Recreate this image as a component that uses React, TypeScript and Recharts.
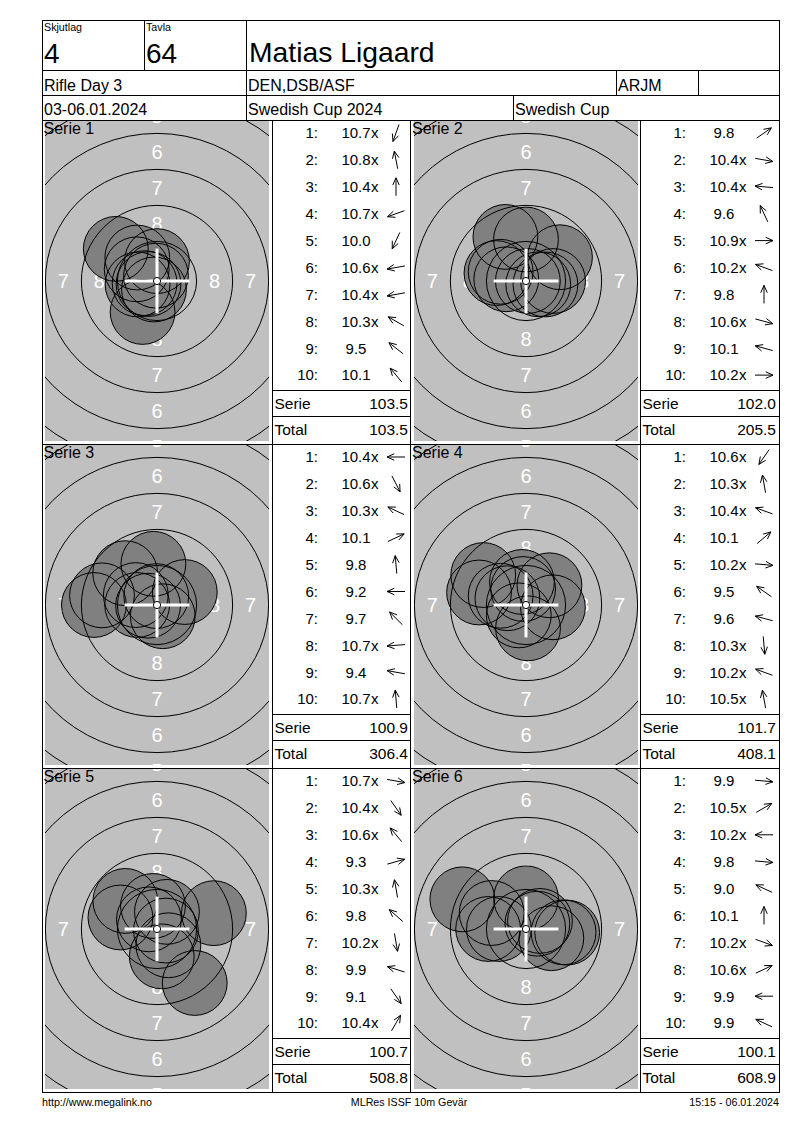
import React from 'react';
import { ScatterChart, Scatter, XAxis, YAxis } from 'recharts';

const FONT = '"Liberation Sans", Arial, Helvetica, sans-serif';

// ---------- header data ----------
const relayLabel = 'Skjutlag';
const relayNo = '4';
const targetLabel = 'Tavla';
const targetNo = '64';
const shooterName = 'Matias Ligaard';
const eventName = 'Rifle Day 3';
const clubName = 'DEN,DSB/ASF';
const classCode = 'ARJM';
const dateText = '03-06.01.2024';
const competitionName = 'Swedish Cup 2024';
const competitionShort = 'Swedish Cup';
const footerLeft = 'http://www.megalink.no';
const footerCenter = 'MLRes ISSF 10m Gevär';
const footerRight = '15:15 - 06.01.2024';

// ---------- series data (shot positions in mm, x right, y up) ----------
const seriesNames = ['Serie 1', 'Serie 2', 'Serie 3', 'Serie 4', 'Serie 5', 'Serie 6'];

const s1Scores = ['10.7x', '10.8x', '10.4x', '10.7x', '10.0', '10.6x', '10.4x', '10.3x', '9.5', '10.1'];
const s1X = [-0.21, -0.07, 0, -0.59, -1.0, -0.86, -1.35, -1.41, -2.86, -1.37];
const s1Y = [-0.59, 0.37, 1.38, -0.21, -2.15, -0.15, -0.24, 0.81, 2.23, 1.63];

const s2Scores = ['9.8', '10.4x', '10.4x', '9.6', '10.9x', '10.2x', '9.8', '10.6x', '10.1', '10.2x'];
const s2X = [2.36, 1.35, -1.37, -1.43, 0.13, -1.76, 0, 0.85, -2.05, 1.88];
const s2Y = [1.65, -0.24, 0.12, 3.06, 0, 0.64, 2.88, -0.23, 0.55, 0];

const s3Scores = ['10.4x', '10.6x', '10.3x', '10.1', '9.8', '9.2', '9.7', '10.7x', '9.4', '10.7x'];
const s3X = [-1.38, 0.4, -1.47, 1.93, -0.25, -4.38, -2.21, -0.62, -3.82, -0.05];
const s3Y = [0, -0.78, 0.69, 0.9, 2.86, 0, 2.21, -0.05, 0.67, 0.62];

const s4Scores = ['10.6x', '10.3x', '10.4x', '10.1', '10.2x', '9.5', '9.6', '10.3x', '10.2x', '10.5x'];
const s4X = [-0.5, -0.28, -1.29, 1.63, 1.87, -2.97, -3.26, 0.14, -1.76, -0.2];
const s4Y = [-0.72, 1.6, 0.47, 1.37, -0.16, 2.08, 0.87, -1.62, 0.64, 1.11];

const s5Scores = ['10.7x', '10.4x', '10.6x', '9.3', '10.3x', '9.8', '10.2x', '9.9', '9.1', '10.4x'];
const s5X = [0.62, 0.79, -0.56, 3.95, -0.28, -2.2, 0.33, -2.54, 2.62, 0.69];
const s5Y = [-0.11, -1.13, 0.67, 1.1, 1.6, 1.95, -1.9, 0.8, -3.75, 1.19];

const s6Scores = ['9.9', '10.5x', '10.2x', '9.8', '9.0', '10.1', '10.2x', '10.6x', '9.9', '9.9'];
const s6X = [2.61, 0.97, -1.88, 2.86, -4.42, 0, 1.76, 0.79, -2.63, -2.38];
const s6Y = [-0.23, 0.56, 0, -0.25, 2.06, 2.13, -0.64, 0.37, 0, 1.11];

const serieSums = ['103.5', '102.0', '100.9', '101.7', '100.7', '100.1'];
const runningTotals = ['103.5', '205.5', '306.4', '408.1', '508.8', '608.9'];

// ---------- target geometry (ISSF 10m air rifle, mm) ----------
const ringNumbers = [4, 5, 6, 7, 8, 9];
const ringRadii = [15.25, 12.75, 10.25, 7.75, 5.25, 2.75];
const labelNumbers = [5, 6, 7, 8];
const labelRadii = [11.5, 9.0, 6.5, 4.0];
const pelletRadius = 2.25;
const tenDotRadius = 0.25;

// ---------- layout ----------
const PLOT_W = 224;
const PLOT_H = 320;
const PX_PER_MM = 14.4;
const HALF_W = PLOT_W / 2 / PX_PER_MM;
const HALF_H = PLOT_H / 2 / PX_PER_MM;
const PANEL_TOPS = [120, 444, 768];
const TARGET_LEFTS = [45, 414];
const SCORE_LEFTS = [272, 640];
const FRAME_L = 42;
const FRAME_R = 779;
const FRAME_T = 20;
const FRAME_B = 1092;

const allScores = [s1Scores, s2Scores, s3Scores, s4Scores, s5Scores, s6Scores];
const allX = [s1X, s2X, s3X, s4X, s5X, s6X];
const allY = [s1Y, s2Y, s3Y, s4Y, s5Y, s6Y];

const ringData = ringNumbers.map((n, i) => ({ x: 0, y: 0, ring: n, r: ringRadii[i] }));
const labelData = labelNumbers
  .flatMap((n, i) => [
    { x: 0, y: labelRadii[i], t: String(n) },
    { x: 0, y: -labelRadii[i], t: String(n) },
    { x: labelRadii[i], y: 0, t: String(n) },
    { x: -labelRadii[i], y: 0, t: String(n) },
  ])
  .filter((d) => Math.abs(d.x) < HALF_W);
const centerData = [{ x: 0, y: 0 }];

const RingShape = (p: any) => (
  <circle cx={p.cx} cy={p.cy} r={p.payload.r * PX_PER_MM} fill="none" stroke="#000" strokeWidth={1} />
);
const LabelShape = (p: any) => (
  <text x={p.cx} y={p.cy + 7.2} textAnchor="middle" fontSize={20} fontFamily={FONT} fill="#ffffff">
    {p.payload.t}
  </text>
);
const ShotFill = (p: any) => <circle cx={p.cx} cy={p.cy} r={pelletRadius * PX_PER_MM} fill="#808080" stroke="none" />;
const ShotLine = (p: any) => (
  <circle cx={p.cx} cy={p.cy} r={pelletRadius * PX_PER_MM} fill="none" stroke="#000" strokeWidth={1} />
);
const CrossShape = (p: any) => {
  const a = pelletRadius * PX_PER_MM;
  return (
    <g>
      <line x1={p.cx - a} y1={p.cy} x2={p.cx + a} y2={p.cy} stroke="#fff" strokeWidth={3} />
      <line x1={p.cx} y1={p.cy - a} x2={p.cx} y2={p.cy + a} stroke="#fff" strokeWidth={3} />
      <circle cx={p.cx} cy={p.cy} r={tenDotRadius * PX_PER_MM} fill="#fff" stroke="#000" strokeWidth={1} />
    </g>
  );
};

function Target({ idx, left, top }: { idx: number; left: number; top: number }) {
  const shots = allX[idx].map((x, i) => ({ x, y: allY[idx][i], n: i + 1 }));
  return (
    <div
      style={{
        position: 'absolute',
        left,
        top,
        width: PLOT_W,
        height: PLOT_H,
        overflow: 'hidden',
        background: '#c0c0c0',
      }}
    >
      <ScatterChart width={PLOT_W} height={PLOT_H} margin={{ top: 0, right: 0, bottom: 0, left: 0 }}>
        <XAxis type="number" dataKey="x" domain={[-HALF_W, HALF_W]} hide allowDataOverflow />
        <YAxis type="number" dataKey="y" domain={[-HALF_H, HALF_H]} hide allowDataOverflow />
        <Scatter data={labelData} shape={LabelShape} isAnimationActive={false} />
        <Scatter data={shots} shape={ShotFill} isAnimationActive={false} />
        <Scatter data={ringData} shape={RingShape} isAnimationActive={false} />
        <Scatter data={shots} shape={ShotLine} isAnimationActive={false} />
        <Scatter data={centerData} shape={CrossShape} isAnimationActive={false} />
      </ScatterChart>
    </div>
  );
}

function Arrow({ cx, cy, ang }: { cx: number; cy: number; ang: number }) {
  const L = 18;
  const dx = Math.cos(ang);
  const dy = -Math.sin(ang);
  const x1 = cx - (dx * L) / 2;
  const y1 = cy - (dy * L) / 2;
  const x2 = cx + (dx * L) / 2;
  const y2 = cy + (dy * L) / 2;
  const back = Math.atan2(-dy, -dx);
  const h = 8;
  const a = 0.42;
  const hx1 = x2 + h * Math.cos(back + a);
  const hy1 = y2 + h * Math.sin(back + a);
  const hx2 = x2 + h * Math.cos(back - a);
  const hy2 = y2 + h * Math.sin(back - a);
  return (
    <path
      d={`M${x1},${y1}L${x2},${y2}M${hx1},${hy1}L${x2},${y2}L${hx2},${hy2}`}
      stroke="#000"
      strokeWidth={1}
      fill="none"
    />
  );
}

function ScoreColumn({ idx, x0, top }: { idx: number; x0: number; top: number }) {
  const scores = allScores[idx];
  return (
    <g fontFamily={FONT} fill="#000">
      {scores.map((s, i) => {
        const cy = top + 13 + i * 26.9;
        const isX = s.endsWith('x');
        const num = isX ? s.slice(0, -1) : s;
        const ang = Math.atan2(allY[idx][i], allX[idx][i]);
        return (
          <g key={i}>
            <text x={x0 + 46} y={cy + 5.3} fontSize={15} textAnchor="end">{`${i + 1}:`}</text>
            <text x={x0 + 84} y={cy + 5.3} fontSize={15} textAnchor="middle">{num}</text>
            {isX && (
              <text x={x0 + 99} y={cy + 5.3} fontSize={15}>x</text>
            )}
            <Arrow cx={x0 + 124} cy={cy} ang={ang} />
          </g>
        );
      })}
      <text x={x0 + 2.5} y={top + 288.5} fontSize={15.5}>Serie</text>
      <text x={x0 + 136} y={top + 288.5} fontSize={15.5} textAnchor="end">{serieSums[idx]}</text>
      <text x={x0 + 2.5} y={top + 314.5} fontSize={15.5}>Total</text>
      <text x={x0 + 136} y={top + 314.5} fontSize={15.5} textAnchor="end">{runningTotals[idx]}</text>
    </g>
  );
}

export default function App() {
  const hl = (y: number, x1: number, x2: number, k: string) => (
    <line key={k} x1={x1} y1={y + 0.5} x2={x2 + 1} y2={y + 0.5} stroke="#000" strokeWidth={1} />
  );
  const vl = (x: number, y1: number, y2: number, k: string) => (
    <line key={k} x1={x + 0.5} y1={y1} x2={x + 0.5} y2={y2 + 1} stroke="#000" strokeWidth={1} />
  );
  const lines: React.ReactNode[] = [];
  lines.push(hl(FRAME_T, FRAME_L, FRAME_R, 't'));
  lines.push(hl(FRAME_B, FRAME_L, FRAME_R, 'b'));
  lines.push(vl(FRAME_L, FRAME_T, FRAME_B, 'l'));
  lines.push(vl(FRAME_R, FRAME_T, FRAME_B, 'r'));
  [70, 95, 120, 444, 768].forEach((y) => lines.push(hl(y, FRAME_L, FRAME_R, 'h' + y)));
  lines.push(vl(144, FRAME_T, 70, 'v144'));
  lines.push(vl(246, FRAME_T, 120, 'v246'));
  lines.push(vl(616, 70, 95, 'v616'));
  lines.push(vl(698, 70, 95, 'v698'));
  lines.push(vl(513, 95, 120, 'v513'));
  [272, 410, 640].forEach((x) => lines.push(vl(x, 120, FRAME_B, 'vp' + x)));
  PANEL_TOPS.forEach((t) => {
    lines.push(hl(t + 270, 272, 410, 'sa' + t));
    lines.push(hl(t + 296, 272, 410, 'sb' + t));
    lines.push(hl(t + 270, 640, FRAME_R, 'sc' + t));
    lines.push(hl(t + 296, 640, FRAME_R, 'sd' + t));
  });

  return (
    <div style={{ position: 'absolute', left: 0, top: 0, width: 800, height: 1130, background: '#fff' }}>
      {seriesNames.map((_, i) => (
        <Target
          key={i}
          idx={i}
          left={TARGET_LEFTS[i % 2]}
          top={PANEL_TOPS[Math.floor(i / 2)] + 1}
        />
      ))}
      <svg
        width={800}
        height={1130}
        style={{ position: 'absolute', left: 0, top: 0, pointerEvents: 'none' }}
        fontFamily={FONT}
      >
        <g shapeRendering="crispEdges">{lines}</g>
        <text x={44} y={31} fontSize={10.7}>{relayLabel}</text>
        <text x={44} y={63} fontSize={28}>{relayNo}</text>
        <text x={146} y={31} fontSize={10.7}>{targetLabel}</text>
        <text x={146} y={63} fontSize={28}>{targetNo}</text>
        <text x={249} y={62} fontSize={28.3}>{shooterName}</text>
        <text x={44} y={91} fontSize={16}>{eventName}</text>
        <text x={248} y={91} fontSize={16}>{clubName}</text>
        <text x={618} y={91} fontSize={16}>{classCode}</text>
        <text x={44} y={115} fontSize={16}>{dateText}</text>
        <text x={248} y={115} fontSize={16}>{competitionName}</text>
        <text x={515} y={115} fontSize={16}>{competitionShort}</text>
        {seriesNames.map((name, i) => (
          <text
            key={'sn' + i}
            x={i % 2 === 0 ? 43.5 : 412}
            y={PANEL_TOPS[Math.floor(i / 2)] + 14}
            fontSize={16}
          >
            {name}
          </text>
        ))}
        {seriesNames.map((_, i) => (
          <ScoreColumn key={'sc' + i} idx={i} x0={SCORE_LEFTS[i % 2]} top={PANEL_TOPS[Math.floor(i / 2)]} />
        ))}
        <text x={42} y={1106} fontSize={10.7}>{footerLeft}</text>
        <text x={409} y={1106} fontSize={10.7} textAnchor="middle">{footerCenter}</text>
        <text x={779} y={1106} fontSize={10.7} textAnchor="end">{footerRight}</text>
      </svg>
    </div>
  );
}
